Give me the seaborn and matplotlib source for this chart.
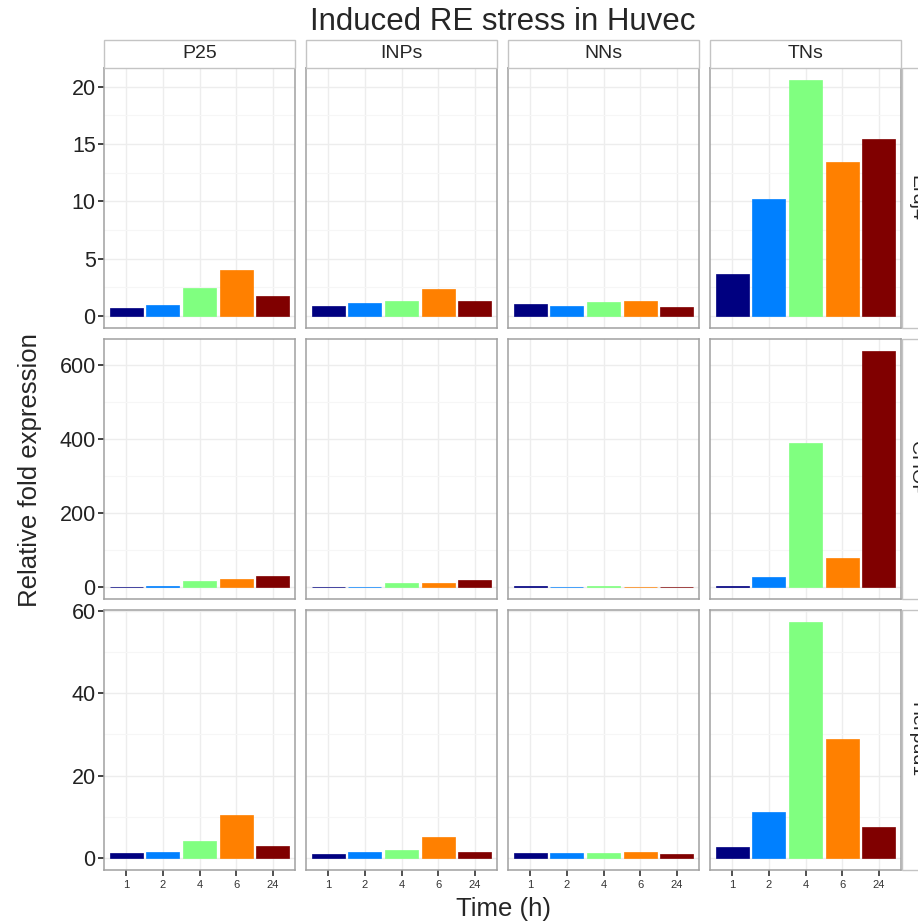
import pandas as pd
import matplotlib.pyplot as plt
import matplotlib.patches as mpatches
import seaborn as sns

# Donnees
times = ['1', '2', '4', '6', '24']
cells = ['P25', 'INPs', 'NNs', 'TNs']
genes = ['Erdj4', 'CHOP', 'Herpud1']
colors = ['#000080', '#0080FF', '#80FF80', '#FF8000', '#800000']

erdj4 = {
    'P25':  [0.67, 0.95, 2.46, 3.99, 1.77],
    'INPs': [0.87, 1.19, 1.30, 2.40, 1.33],
    'NNs':  [1.08, 0.90, 1.25, 1.34, 0.76],
    'TNs':  [3.67, 10.2, 20.6, 13.4, 15.4],
}
chop = {
    'P25':  [0.8, 4.0, 17.0, 21.0, 31.0],
    'INPs': [1.0, 1.0, 10.0, 10.0, 19.0],
    'NNs':  [3.0, 1.5, 2.0, 1.0, 1.0],
    'TNs':  [3.0, 27.0, 389.0, 80.0, 639.0],
}
herpud1 = {
    'P25':  [1.14, 1.38, 4.13, 10.5, 2.9],
    'INPs': [0.97, 1.38, 2.0, 5.2, 1.38],
    'NNs':  [1.14, 1.14, 1.2, 1.45, 0.9],
    'TNs':  [2.67, 11.1, 57.3, 28.9, 7.45],
}
gene_values = {'Erdj4': erdj4, 'CHOP': chop, 'Herpud1': herpud1}
y_ticks = {'Erdj4': [0, 5, 10, 15, 20], 'CHOP': [0, 200, 400, 600], 'Herpud1': [0, 20, 40, 60]}
y_minor = {'Erdj4': [2.5, 7.5, 12.5, 17.5], 'CHOP': [100, 300, 500], 'Herpud1': [10, 30, 50]}

rows = []
for g in genes:
    for c in cells:
        for t, v in zip(times, gene_values[g][c]):
            rows.append({'gene': g, 'cell': c, 'time': t, 'fold': v})
df = pd.DataFrame(rows)

sns.set_style('white')
plt.rcParams['font.family'] = ['Liberation Sans', 'DejaVu Sans']

W, H = 918, 923
fig, axes = plt.subplots(3, 4, figsize=(W / 100, H / 100), dpi=100)
fig.subplots_adjust(left=104 / W, right=901 / W, top=1 - 68 / H, bottom=1 - 870 / H,
                    wspace=11 / 191, hspace=11 / 260)

palette = dict(zip(times, colors))
for i, g in enumerate(genes):
    ymax = df[df.gene == g]['fold'].max()
    for j, c in enumerate(cells):
        ax = axes[i, j]
        sub = df[(df.gene == g) & (df.cell == c)]
        sns.barplot(data=sub, x='time', y='fold', hue='time', order=times, hue_order=times,
                    palette=palette, saturation=1, width=0.9, errorbar=None, legend=False,
                    ax=ax, zorder=3)
        # contour fin de la meme couleur pour voir les toutes petites barres
        for p, col in zip(ax.patches, colors):
            p.set_edgecolor(col)
            p.set_linewidth(0.5)
        ax.set_xlim(-0.6, 4.6)
        ax.set_ylim(-0.05 * ymax, 1.05 * ymax)
        ax.set_yticks(y_ticks[g])
        ax.set_yticks(y_minor[g], minor=True)
        ax.grid(True, which='major', color='#ededed', linewidth=1, zorder=0)
        ax.grid(True, which='minor', axis='y', color='#f6f6f6', linewidth=0.8, zorder=0)
        ax.set_axisbelow(True)
        for s in ax.spines.values():
            s.set_visible(True)
            s.set_color('#a0a0a0')
            s.set_linewidth(1.1)
        ax.set_xlabel('')
        ax.set_ylabel('')
        ax.tick_params(which='minor', length=0)
        ax.tick_params(axis='y', labelsize=15.5, colors='#222222', length=4, width=1.2, pad=2)
        ax.tick_params(axis='x', labelsize=8, colors='#333333', length=4, width=1.2, pad=3)
        if j > 0:
            ax.tick_params(axis='y', left=False, labelleft=False)
        else:
            ax.tick_params(axis='y', left=True)
        if i < 2:
            ax.tick_params(axis='x', bottom=False, labelbottom=False)
        else:
            ax.tick_params(axis='x', bottom=True)

# bandeaux du haut
for j, c in enumerate(cells):
    pos = axes[0, j].get_position()
    fig.add_artist(mpatches.Rectangle((pos.x0, pos.y1), pos.width, 28 / H, transform=fig.transFigure,
                                      facecolor='white', edgecolor='#c4c4c4', linewidth=1))
    fig.text((pos.x0 + pos.x1) / 2, pos.y1 + 14 / H, c, ha='center', va='center', fontsize=14)

# bandeaux de droite (coupes par le bord, comme dans l'original)
for i, g in enumerate(genes):
    pos = axes[i, 3].get_position()
    fig.add_artist(mpatches.Rectangle((pos.x1 + 1 / W, pos.y0), 28 / W, pos.height, transform=fig.transFigure,
                                      facecolor='white', edgecolor='#c4c4c4', linewidth=1))
    fig.text(pos.x1 + 15 / W, (pos.y0 + pos.y1) / 2, g, ha='center', va='center', fontsize=14, rotation=-90)

fig.text(503 / W, 1 - 22 / H, 'Induced RE stress in Huvec', ha='center', va='center', fontsize=22.5)
fig.text(30 / W, 1 - 470 / H, 'Relative fold expression', ha='center', va='center', fontsize=18.5, rotation=90)
fig.text(503 / W, 1 - 909 / H, 'Time (h)', ha='center', va='center', fontsize=18.5)

fig.savefig('out.png', dpi=100, facecolor='white')
